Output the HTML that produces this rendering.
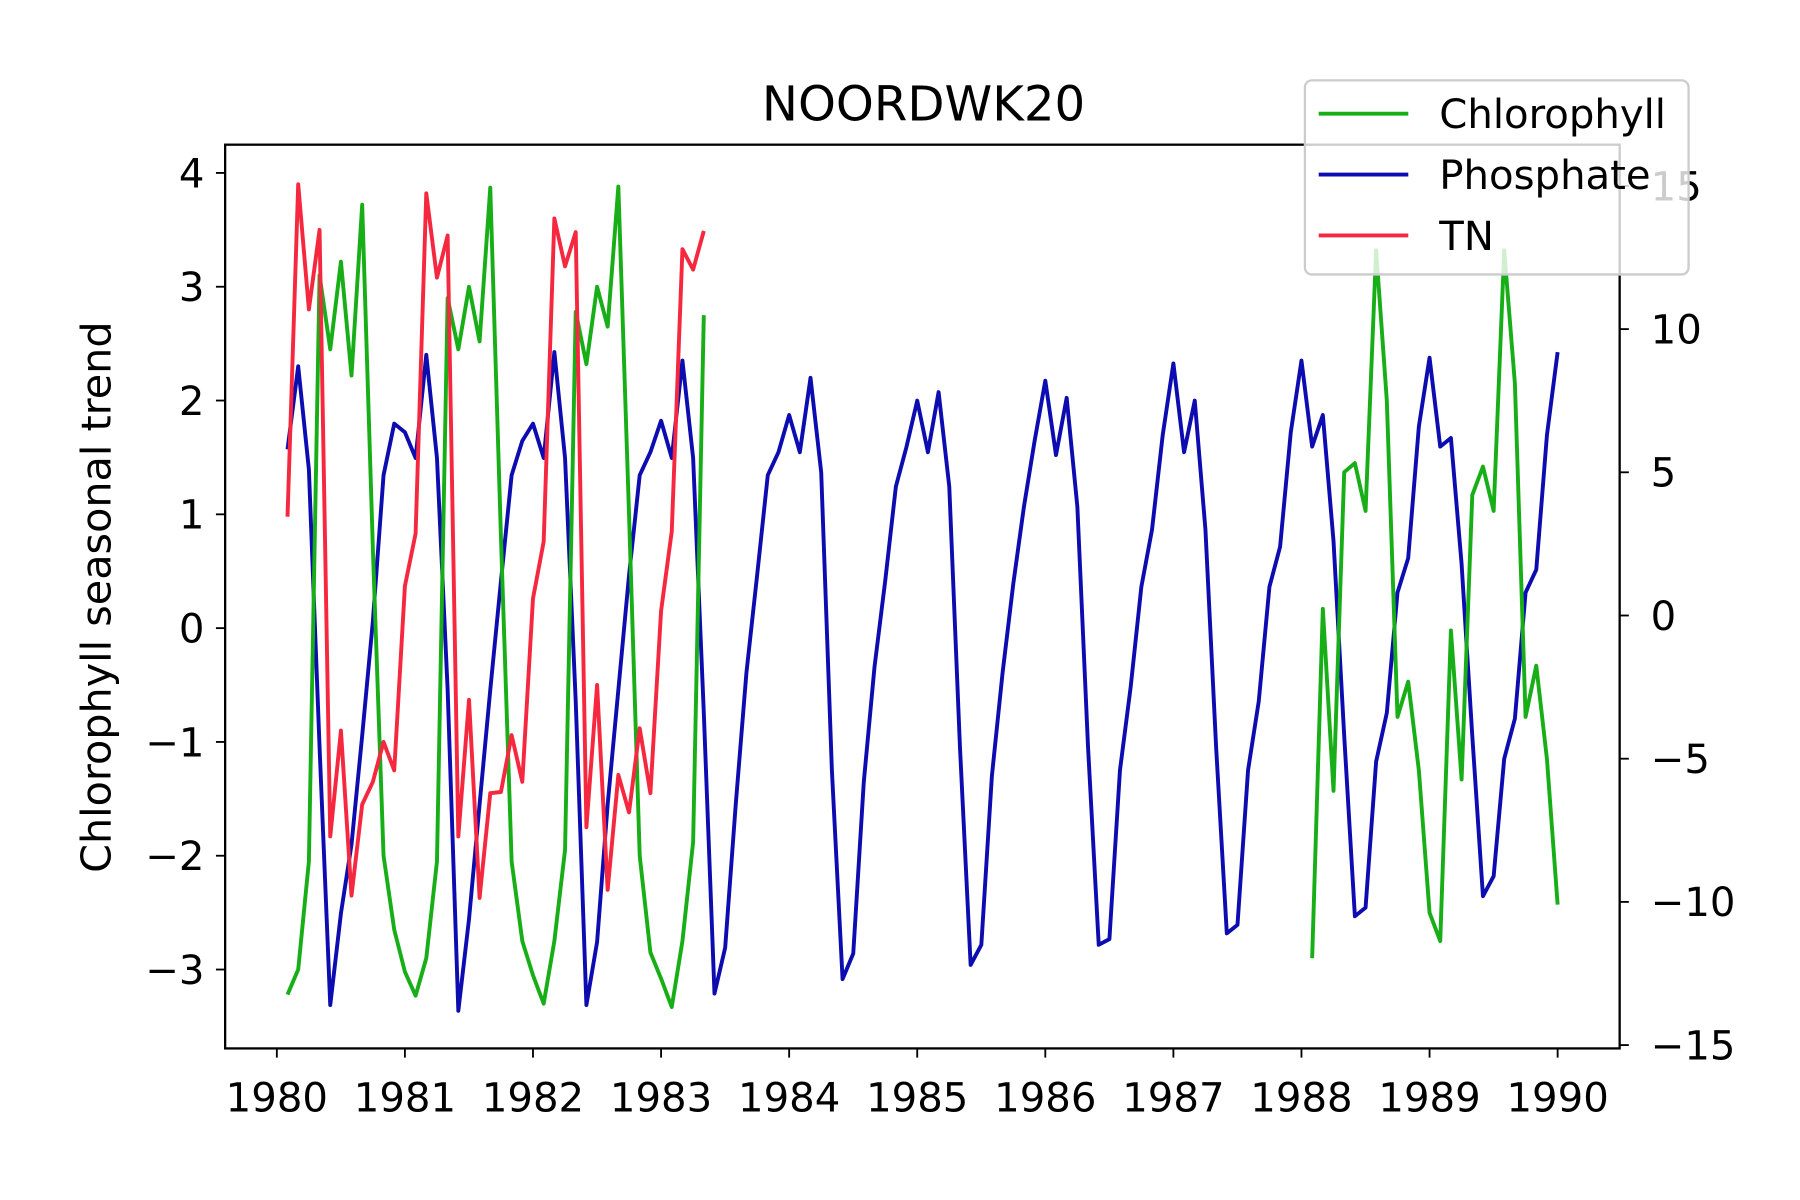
<!DOCTYPE html>
<html><head><meta charset="utf-8"><style>
html,body{margin:0;padding:0;background:#fff;}
svg{display:block;font-family:"DejaVu Sans","Liberation Sans",sans-serif;}
</style></head><body>
<svg id="chart" width="1800" height="1200" viewBox="0 0 1567 1045" preserveAspectRatio="none" xmlns="http://www.w3.org/2000/svg">
<rect width="1567" height="1045" fill="#fff"/>
<g id="plot"></g>
</svg>
<script>
const xTicks = [1980,1981,1982,1983,1984,1985,1986,1987,1988,1989,1990];
const leftTicks = [4,3,2,1,0,-1,-2,-3];
const rightTicks = [15,10,5,0,-5,-10,-15];
const chlorStart1 = 1980 + 1/12;
const chlorophyll1 = [-3.22,-3.0,-2.05,3.1,2.45,3.22,2.22,3.72,0.7,-2.0,-2.65,-3.02,-3.23,-2.9,-2.05,2.9,2.45,3.0,2.52,3.87,0.8,-2.05,-2.75,-3.05,-3.3,-2.75,-1.95,2.78,2.32,3.0,2.65,3.88,1.0,-2.0,-2.85,-3.08,-3.33,-2.75,-1.88,2.75];
const chlorStart2 = 1988 + 1/12;
const chlorophyll2 = [-2.9,0.17,-1.43,1.37,1.45,1.03,3.32,2.0,-0.78,-0.47,-1.25,-2.5,-2.75,-0.02,-1.33,1.17,1.42,1.03,3.32,2.15,-0.78,-0.33,-1.15,-2.43];
const phosStart = 1980 + 1/12;
const phosphate = [5.8,8.7,5.1,-4.6,-13.6,-10.4,-8.0,-4.2,-0.2,4.9,6.7,6.4,5.5,9.1,5.5,-2.6,-13.8,-10.6,-6.6,-2.6,1.2,4.9,6.1,6.7,5.5,9.2,5.5,-3.0,-13.6,-11.4,-6.6,-2.6,1.4,4.9,5.7,6.8,5.5,8.9,5.5,-3.4,-13.2,-11.6,-6.6,-2.0,1.4,4.9,5.7,7.0,5.7,8.3,5.0,-5.4,-12.7,-11.8,-5.8,-1.8,1.2,4.5,5.9,7.5,5.7,7.8,4.5,-4.6,-12.2,-11.5,-5.6,-2.0,1.1,3.8,6.1,8.2,5.6,7.6,3.8,-4.6,-11.5,-11.3,-5.4,-2.5,1.0,3.0,6.3,8.8,5.7,7.5,3.0,-4.6,-11.1,-10.8,-5.4,-3.0,1.0,2.4,6.4,8.9,5.9,7.0,2.6,-4.2,-10.5,-10.2,-5.1,-3.4,0.8,2.0,6.6,9.0,5.9,6.2,1.8,-4.2,-9.8,-9.1,-5.0,-3.6,0.8,1.6,6.3,9.2];
const tnStart = 1980 + 1/12;
const tn = [0.98,3.9,2.8,3.5,-1.83,-0.9,-2.35,-1.55,-1.35,-1.0,-1.25,0.37,0.83,3.82,3.08,3.45,-1.83,-0.63,-2.37,-1.45,-1.44,-0.94,-1.35,0.26,0.76,3.6,3.18,3.48,-1.75,-0.5,-2.3,-1.29,-1.62,-0.88,-1.45,0.15,0.85,3.33,3.15,3.49];

const NS="http://www.w3.org/2000/svg";
const g=document.getElementById('plot');
const L=196,R=1410,T=126,B=913;
const xS=v=>241+(v-1980)*111.5;
const yL=v=>547-v*99.1;
const yR=v=>536-v*24.94;
function mk(tag,attrs,parent){const e=document.createElementNS(NS,tag);for(const k in attrs)e.setAttribute(k,attrs[k]);(parent||g).appendChild(e);return e;}
function series(vals,start,yf,color,name){
  const pts=vals.map((v,i)=>xS(start+i/12).toFixed(1)+','+yf(v).toFixed(1)).join(' ');
  const p=mk('polyline',{points:pts,fill:'none',stroke:color,'stroke-width':3.4,'stroke-linejoin':'round'});
  
  
}
series(phosphate,phosStart,yR,'#0c0cb0','phosphate-line');
series(chlorophyll1,chlorStart1,yL,'#18ae18','chlorophyll-line-1');
series(chlorophyll2,chlorStart2,yL,'#18ae18','chlorophyll-line-2');
series(tn,tnStart,yL,'#f5283f','tn-line');
const frame=mk('rect',{x:L,y:T,width:R-L,height:B-T,fill:'none',stroke:'#000','stroke-width':2});


xTicks.forEach(t=>{const x=xS(t);mk('line',{x1:x,y1:B,x2:x,y2:B+8,stroke:'#000','stroke-width':1.6});
  const tx=mk('text',{x:x,y:968,'font-size':35,'text-anchor':'middle'});tx.textContent=t;
  
  });
leftTicks.forEach(t=>{const y=yL(t);mk('line',{x1:L,y1:y,x2:L-8,y2:y,stroke:'#000','stroke-width':1.6});
  const tx=mk('text',{x:178,y:y+12.5,'font-size':35,'text-anchor':'end'});tx.textContent=t<0?'\u2212'+(-t):t;
  
  });
rightTicks.forEach(t=>{const y=yR(t);mk('line',{x1:R,y1:y,x2:R+8,y2:y,stroke:'#000','stroke-width':1.6});
  const tx=mk('text',{x:1437,y:y+12.5,'font-size':35,'text-anchor':'start'});tx.textContent=t<0?'\u2212'+(-t):t;
  
  });
const yl=mk('text',{x:0,y:0,'font-size':36,'text-anchor':'middle',transform:'translate(96,520) rotate(-90)'});
yl.textContent='Chlorophyll seasonal trend';


const ti=mk('text',{x:804,y:105,'font-size':42,'text-anchor':'middle'});
ti.textContent='NOORDWK20';


const lg=mk('g',{});


mk('rect',{x:1136,y:70,width:334,height:169,rx:6,fill:'#fff','fill-opacity':0.8,stroke:'#ccc','stroke-width':2},lg);
[['Chlorophyll','#18ae18',99],['Phosphate','#0c0cb0',152],['TN','#f5283f',205]].forEach(([n,c,y])=>{
  const e=mk('g',{},lg);
  
  
  mk('line',{x1:1148,y1:y,x2:1226,y2:y,stroke:c,'stroke-width':3.4},e);
  const tx=mk('text',{x:1253,y:y+12.5,'font-size':35},e);tx.textContent=n;
});
</script>
</body></html>
